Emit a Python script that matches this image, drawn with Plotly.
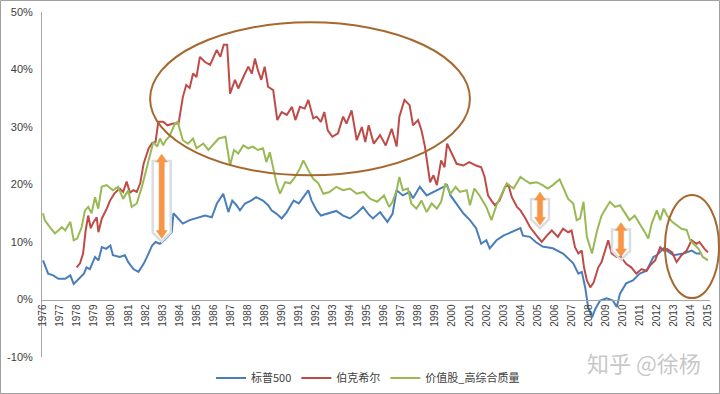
import plotly.graph_objects as go

# ---------------- data ----------------
spx_t = [1976.0, 1976.3, 1976.6, 1976.9, 1977.3, 1977.6, 1977.8, 1978.1, 1978.4, 1978.55, 1978.75,
         1979.05, 1979.25, 1979.45, 1979.7, 1979.95, 1980.1, 1980.5, 1980.8, 1981.0, 1981.3, 1981.6,
         1981.9, 1982.1, 1982.4, 1982.6, 1982.85, 1983.1, 1983.35, 1983.55, 1983.65, 1983.85, 1984.2,
         1984.6, 1985.0, 1985.5, 1985.9, 1986.2, 1986.57, 1986.87, 1987.1, 1987.35, 1987.55, 1987.85,
         1988.2, 1988.5, 1988.9, 1989.2, 1989.4, 1989.7, 1990.0, 1990.3, 1990.7, 1991.0, 1991.27,
         1991.56, 1991.75, 1992.05, 1992.3, 1992.6, 1992.97, 1993.2, 1993.6, 1994.0, 1994.4, 1994.77,
         1995.1, 1995.35, 1995.77, 1996.2, 1996.5, 1996.74, 1997.1, 1997.5, 1997.7, 1998.1, 1998.5,
         1999.1, 1999.7, 1999.9, 2000.35, 2000.65, 2001.04, 2001.4, 2001.7, 2002.0, 2002.2, 2002.6,
         2003.0, 2003.5, 2004.0, 2004.15, 2004.56, 2004.9, 2005.3, 2005.9, 2006.5, 2007.1, 2007.4,
         2007.6, 2007.8, 2007.97, 2008.2, 2008.4, 2008.67, 2009.06, 2009.43, 2009.65, 2009.84, 2010.2,
         2010.6, 2011.0, 2011.4, 2011.8, 2012.0, 2012.4, 2012.97, 2013.55, 2014.05, 2014.33, 2014.6]
spx_v = [6.8, 4.5, 4.2, 3.6, 3.6, 4.2, 2.7, 3.6, 4.5, 5.6, 5.3,
         7.4, 6.8, 9.1, 8.8, 9.4, 7.7, 7.4, 7.7, 6.5, 5.3, 4.8,
         6.2, 7.4, 9.4, 10.0, 9.7, 10.3, 11.1, 11.7, 15.0, 14.3, 13.2,
         13.8, 14.1, 14.6, 14.3, 16.7, 18.4, 15.2, 17.2, 16.4, 15.5, 16.7,
         17.2, 17.8, 17.2, 16.4, 15.5, 14.9, 14.1, 15.2, 17.2, 16.7, 17.8,
         19.0, 17.2, 15.5, 14.6, 14.9, 15.2, 15.4, 14.6, 14.1, 15.0, 16.1,
         14.8, 14.1, 15.2, 13.5, 14.9, 19.0, 18.1, 18.7, 17.6, 19.6, 18.1,
         19.0, 19.9, 18.1, 16.1, 15.0, 13.8, 12.4, 9.7, 10.3, 8.9, 10.3,
         11.1, 11.7, 12.4, 11.1, 10.9, 10.0, 9.2, 8.9, 8.0, 6.3, 4.5,
         4.8, 2.1, -1.3, -3.1, -1.6, -0.2, 0.2, -0.2, -1.3, 1.0, 2.8,
         3.3, 4.5, 5.0, 7.4, 7.7, 8.9, 7.7, 8.0, 8.5, 8.0, 8.0]

brk_t = [1977.97, 1978.17, 1978.35, 1978.5, 1978.65, 1978.8, 1978.95, 1979.15, 1979.25, 1979.45,
         1979.74, 1979.93, 1980.2, 1980.5, 1980.7, 1980.9, 1981.1, 1981.3, 1981.5, 1981.7, 1981.9,
         1982.2, 1982.4, 1982.6, 1982.76, 1983.05, 1983.3, 1983.64, 1983.95, 1984.2, 1984.4, 1984.6,
         1984.8, 1985.0, 1985.2, 1985.5, 1985.8, 1986.0, 1986.19, 1986.4, 1986.6, 1986.8, 1986.97,
         1987.26, 1987.45, 1987.75, 1988.04, 1988.25, 1988.43, 1988.6, 1988.8, 1989.0, 1989.2, 1989.5,
         1989.74, 1990.0, 1990.3, 1990.6, 1990.8, 1991.07, 1991.35, 1991.56, 1991.85, 1992.05, 1992.3,
         1992.5, 1992.7, 1992.97, 1993.3, 1993.6, 1993.8, 1994.1, 1994.4, 1994.7, 1994.9, 1995.1,
         1995.4, 1995.77, 1996.1, 1996.45, 1996.74, 1996.9, 1997.2, 1997.5, 1997.7, 1998.0, 1998.2,
         1998.4, 1998.7, 1998.9, 1999.1, 1999.35, 1999.55, 1999.7, 1999.95, 2000.26, 2000.65, 2001.0,
         2001.4, 2001.7, 2001.9, 2002.1, 2002.3, 2002.5, 2002.77, 2003.1, 2003.3, 2003.5, 2003.8,
         2004.0, 2004.3, 2004.56, 2004.95, 2005.25, 2005.55, 2005.84, 2006.2, 2006.5, 2006.8, 2007.0,
         2007.2, 2007.4, 2007.6, 2007.73, 2007.9, 2008.1, 2008.3, 2008.57, 2008.76, 2008.96, 2009.15,
         2009.35, 2009.65, 2009.9, 2010.2, 2010.5, 2010.8, 2011.1, 2011.4, 2011.6, 2011.9, 2012.2,
         2012.4, 2012.6, 2012.9, 2013.16, 2013.45, 2013.75, 2014.04, 2014.33, 2014.5, 2014.8, 2015.0]
brk_v = [5.6, 6.3, 8.0, 12.0, 14.6, 12.4, 13.4, 14.3, 11.7, 14.1,
         15.8, 17.2, 18.5, 19.3, 18.7, 20.5, 18.6, 19.0, 18.7, 20.2, 23.6,
         26.3, 27.2, 27.4, 30.9, 30.9, 30.3, 30.6, 30.6, 35.2, 37.3, 36.8,
         39.3, 38.7, 42.2, 41.3, 40.8, 42.2, 43.4, 42.2, 44.3, 44.3, 35.8,
         38.2, 36.7, 38.7, 40.5, 39.3, 41.9, 39.9, 38.2, 40.5, 37.0, 36.4,
         31.2, 32.6, 32.1, 33.5, 31.2, 33.5, 33.2, 34.7, 31.5, 31.8, 30.9,
         32.6, 29.4, 28.3, 28.9, 31.8, 30.6, 32.9, 27.7, 30.0, 27.4, 30.3,
         27.1, 28.6, 26.8, 29.7, 26.6, 31.8, 34.7, 33.8, 30.3, 31.2, 29.4,
         26.6, 20.4, 21.6, 19.9, 24.2, 23.0, 27.1, 25.6, 23.6, 23.3, 23.9,
         23.3, 23.0, 21.3, 18.1, 17.2, 16.4, 17.2, 19.6, 19.9, 17.8, 16.1,
         15.5, 14.1, 12.6, 11.1, 10.0, 11.1, 12.0, 10.9, 12.3, 11.7, 12.0,
         9.1, 8.0, 8.5, 5.6, 3.3, 2.1, 3.0, 5.6, 6.5, 8.5, 10.3,
         8.0, 7.4, 7.4, 6.2, 5.6, 4.5, 5.3, 5.0, 5.9, 6.8, 9.1,
         8.5, 8.8, 8.2, 6.5, 7.7, 8.5, 10.3, 9.7, 10.0, 8.8, 8.2]

val_t = [1976.0, 1976.1, 1976.4, 1976.7, 1976.9, 1977.1, 1977.3, 1977.6, 1977.8, 1978.0, 1978.27,
         1978.46, 1978.65, 1978.85, 1979.05, 1979.24, 1979.44, 1979.73, 1980.1, 1980.4, 1980.7,
         1981.0, 1981.2, 1981.5, 1981.8, 1982.1, 1982.3, 1982.47, 1982.7, 1982.86, 1983.05, 1983.2,
         1983.4, 1983.74, 1983.9, 1984.2, 1984.5, 1984.8, 1985.0, 1985.4, 1985.7, 1986.0, 1986.3,
         1986.7, 1986.97, 1987.2, 1987.45, 1987.75, 1988.04, 1988.3, 1988.6, 1988.9, 1989.1, 1989.3,
         1989.5, 1989.7, 1989.9, 1990.2, 1990.5, 1990.78, 1991.07, 1991.27, 1991.56, 1991.85, 1992.15,
         1992.44, 1992.8, 1993.2, 1993.6, 1994.0, 1994.4, 1994.8, 1995.2, 1995.6, 1996.0, 1996.3,
         1996.5, 1996.74, 1996.9, 1997.1, 1997.4, 1997.6, 1997.9, 1998.2, 1998.5, 1998.8, 1999.1,
         1999.35, 1999.6, 1999.9, 2000.2, 2000.45, 2000.85, 2001.04, 2001.3, 2001.6, 2002.0, 2002.3,
         2002.6, 2002.9, 2003.2, 2003.6, 2004.0, 2004.3, 2004.56, 2004.95, 2005.3, 2005.6, 2005.9,
         2006.3, 2006.5, 2006.8, 2007.1, 2007.3, 2007.5, 2007.7, 2007.9, 2008.2, 2008.5, 2008.76,
         2009.06, 2009.25, 2009.55, 2009.84, 2010.1, 2010.4, 2010.7, 2011.0, 2011.3, 2011.5, 2011.7,
         2012.0, 2012.2, 2012.4, 2012.6, 2012.9, 2013.16, 2013.45, 2013.75, 2013.95, 2014.15, 2014.45,
         2014.7, 2015.0]
val_v = [15.0, 13.8, 12.6, 11.5, 12.0, 12.6, 12.0, 13.5, 10.3, 10.6, 12.6,
         15.5, 16.1, 15.0, 17.8, 15.8, 19.6, 19.9, 19.0, 19.6, 17.5,
         19.0, 16.1, 16.7, 19.6, 23.0, 25.4, 27.4, 26.6, 28.0, 26.8, 27.7,
         28.3, 30.6, 30.9, 27.7, 27.1, 28.0, 26.3, 27.1, 26.0, 27.1, 28.0,
         28.3, 23.3, 26.0, 25.4, 26.8, 26.3, 26.6, 26.0, 26.3, 23.9, 25.6,
         23.0, 20.2, 18.4, 20.4, 20.2, 21.3, 22.8, 24.2, 22.5, 21.0, 20.2,
         18.4, 18.7, 19.6, 19.0, 19.3, 18.4, 18.7, 17.5, 17.0, 18.1, 16.1,
         17.0, 19.0, 21.3, 19.0, 19.3, 16.7, 15.8, 17.2, 15.2, 16.7, 15.8,
         17.0, 20.2, 18.4, 19.6, 18.7, 19.0, 16.4, 19.3, 18.1, 16.1, 13.8,
         16.4, 18.4, 20.2, 19.3, 21.3, 20.7, 20.2, 20.4, 19.9, 19.3, 19.9,
         20.9, 19.6, 17.5, 16.7, 13.8, 14.1, 17.0, 10.9, 8.0, 12.0, 14.6,
         16.1, 17.0, 16.1, 16.4, 15.2, 13.8, 14.6, 13.2, 11.7, 10.6, 13.2,
         15.5, 13.8, 15.8, 14.6, 13.5, 12.9, 12.3, 12.1, 10.3, 9.7, 8.8,
         7.4, 6.8]

series_names = ["标普500", "伯克希尔", "价值股_高综合质量"]
years = list(range(1976, 2016))
y_ticks = [-10, 0, 10, 20, 30, 40, 50]

# annotation arrows: (centre year, top %, bottom %)
arrows = [(1982.96, 25.3, 10.6), (2005.15, 18.7, 12.9), (2009.9, 13.4, 7.4)]

# ---------------- figure ----------------
W, H = 720, 394
ML, MR, MT, MB = 42, 10, 12, 37
PW, PH = W - ML - MR, H - MT - MB
XR = [1975.94, 2015.12]
YR = [-10, 50]
PXX = (XR[1] - XR[0]) / PW
PXY = (YR[1] - YR[0]) / PH

colors = ["#4A7EBB", "#BE4B48", "#98B954"]
fig = go.Figure()
for t, v, name, c in zip([spx_t, brk_t, val_t], [spx_v, brk_v, val_v], series_names, colors):
    fig.add_trace(go.Scatter(x=t, y=v, mode="lines", name=name,
                             line=dict(color=c, width=2)))

shapes = []
# big ellipse
shapes.append(dict(type="circle", xref="x", yref="y", x0=1982.28, x1=2001.04, y0=21.6, y1=48.2,
                   line=dict(color="#A6682F", width=2), layer="above"))
# small ellipse (extends past plot edge -> paper coords)
shapes.append(dict(type="circle", xref="paper", yref="paper",
                   x0=(665 - ML) / PW, x1=(719 - ML) / PW,
                   y0=(H - MB - 298) / PH, y1=(H - MB - 195) / PH,
                   line=dict(color="#A6682F", width=2), layer="above"))

for xc, yt, yb in arrows:
    dx = lambda p: p * PXX
    dy = lambda p: p * PXY
    # light gray shadow bracket
    br = (f"M {xc-dx(4)},{yt-dy(7)} L {xc-dx(9)},{yt-dy(7)} L {xc-dx(9)},{yb+dy(6)} "
          f"L {xc},{yb-dy(3)} L {xc+dx(9)},{yb+dy(6)} L {xc+dx(9)},{yt-dy(7)} L {xc+dx(4)},{yt-dy(7)}")
    shapes.append(dict(type="path", xref="x", yref="y", path=br,
                       line=dict(color="#DADDE2", width=2.5), layer="above"))
    hw, hh, sw = 5.5, 8, 2.6
    p = (f"M {xc},{yt} L {xc+dx(hw)},{yt-dy(hh)} L {xc+dx(sw)},{yt-dy(hh)} L {xc+dx(sw)},{yb+dy(hh)} "
         f"L {xc+dx(hw)},{yb+dy(hh)} L {xc},{yb} L {xc-dx(hw)},{yb+dy(hh)} L {xc-dx(sw)},{yb+dy(hh)} "
         f"L {xc-dx(sw)},{yt-dy(hh)} L {xc-dx(hw)},{yt-dy(hh)} Z")
    shapes.append(dict(type="path", xref="x", yref="y", path=p,
                       fillcolor="#F79646", line=dict(color="#F79646", width=0.5), layer="above"))

# outer chart border
shapes.append(dict(type="rect", xref="paper", yref="paper",
                   x0=-(ML - 0.5) / PW, x1=(W - 0.5 - ML) / PW,
                   y0=-(MB - 0.5) / PH, y1=(H - MB - 0.5) / PH,
                   line=dict(color="#A0A0A0", width=1), layer="below"))

font_family = "Liberation Sans, Noto Sans CJK SC, sans-serif"
fig.update_layout(
    width=W, height=H, autosize=False,
    margin=dict(l=ML, r=MR, t=MT, b=MB, pad=0, autoexpand=False),
    paper_bgcolor="white", plot_bgcolor="white",
    font=dict(family=font_family, color="#404040", size=11),
    shapes=shapes,
    showlegend=True,
    legend=dict(orientation="h", x=(368 - ML) / PW, xanchor="center",
                y=(H - MB - 378) / PH, yanchor="middle",
                font=dict(family="Noto Sans CJK SC, sans-serif", size=11, color="#404040"),
                itemwidth=30, bgcolor="rgba(0,0,0,0)", tracegroupgap=0),
    annotations=[dict(text="知乎 @徐杨", xref="paper", yref="paper",
                      x=(644 - ML) / PW, y=(H - MB - 362) / PH, showarrow=False,
                      xanchor="center", yanchor="middle",
                      font=dict(family="Noto Sans CJK SC, sans-serif", size=22,
                                color="rgba(150,150,150,0.55)"))],
    xaxis=dict(range=XR, tickvals=years, ticktext=[str(y) for y in years], tickangle=-90,
               tickfont=dict(size=10, color="#404040"), showgrid=False, zeroline=False,
               showline=True, linecolor="#A6A6A6", linewidth=1, ticks="", automargin=False,
               anchor="free", position=(0 - YR[0]) / (YR[1] - YR[0])),
    yaxis=dict(range=YR, tickvals=y_ticks, ticktext=[f"{v}%" for v in y_ticks],
               tickfont=dict(size=11, color="#404040"), showgrid=False, zeroline=False,
               showline=True, linecolor="#A6A6A6", linewidth=1, ticks="", automargin=False,
               ticklabelstandoff=6),
)

fig.write_html("out.html", config={"displayModeBar": False},
               post_script="document.body.style.margin='0';document.body.style.padding='0';"
                           "document.body.style.overflow='hidden';")
